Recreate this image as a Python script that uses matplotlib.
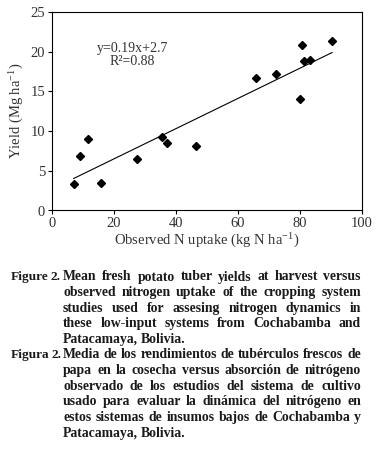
import matplotlib
matplotlib.use("Agg")
import matplotlib.pyplot as plt
import numpy as np

# datos
n_uptake = [7.0, 9.0, 11.7, 15.9, 27.4, 35.7, 37.3, 46.4, 66.0, 72.4, 80.0, 80.8, 81.5, 83.2, 90.5]
yield_mg = [3.36, 6.9, 9.0, 3.45, 6.5, 9.24, 8.5, 8.15, 16.7, 17.2, 14.1, 20.9, 18.8, 19.0, 21.4]
slope, intercept = 0.19, 2.7

caption_en = [
    "Mean fresh potato tuber yields at harvest versus",
    "observed nitrogen uptake of the cropping system",
    "studies used for assesing nitrogen dynamics in",
    "these low-input systems from Cochabamba and",
    "Patacamaya, Bolivia.",
]
caption_es = [
    "Media de los rendimientos de tubérculos frescos de",
    "papa en la cosecha versus absorción de nitrógeno",
    "observado de los estudios del sistema de cultivo",
    "usado para evaluar la dinámica del nitrógeno en",
    "estos sistemas de insumos bajos de Cochabamba y",
    "Patacamaya, Bolivia.",
]

plt.rcParams['font.family'] = 'Liberation Serif'
plt.rcParams['mathtext.fontset'] = 'custom'
plt.rcParams['mathtext.rm'] = 'Liberation Serif'
plt.rcParams['mathtext.it'] = 'Liberation Serif:italic'

W, H = 376, 461
fig = plt.figure(figsize=(W / 100, H / 100), dpi=100)
ax = fig.add_axes([52 / W, 1 - 210.5 / H, (361.5 - 52) / W, (210.5 - 12) / H])

gris = '#333333'
ax.plot(n_uptake, yield_mg, 'D', color='black', ms=4.5, zorder=3)
xl = np.array([min(n_uptake), max(n_uptake)])
ax.plot(xl, slope * xl + intercept, color='black', lw=0.8)

ax.set_xlim(0, 100)
ax.set_ylim(0, 25)
ax.set_xticks([0, 20, 40, 60, 80, 100])
ax.set_yticks([0, 5, 10, 15, 20, 25])
ax.tick_params(direction='out', length=3, width=0.8, labelsize=10.5, labelcolor=gris, pad=2)
for s in ax.spines.values():
    s.set_linewidth(0.8)
ax.set_xlabel('Observed N uptake (kg N ha$^{\\mathrm{-1}}$)', fontsize=10.5, color=gris, labelpad=1)
ax.set_ylabel('Yield (Mg ha$^{\\mathrm{-1}}$)', fontsize=10.5, color=gris, labelpad=3)

ax.text(26, 20.45, 'y=0.19x+2.7', ha='center', va='center', fontsize=10, color=gris)
ax.text(26, 18.8, 'R²=0.88', ha='center', va='center', fontsize=10, color=gris)

# pie de figura justificado
renderer = fig.canvas.get_renderer()
col = '#1a1a1a'
x_izq, x_der = 63, 361


def ajustar(texto, ancho):
    # tamaño de letra para que el texto ocupe el ancho dado
    t = fig.text(0, 0, texto, fontsize=10, fontweight='bold')
    w = t.get_window_extent(renderer).width
    t.remove()
    return 10 * ancho / w


fs = ajustar(caption_es[0], x_der - x_izq)
fs_etq = min(fs, ajustar('Figure2.', 48))


def linea(texto, y, x0, x1, justificar, size, gap_fijo):
    palabras = texto.split()
    objs = []
    anchos = []
    for p in palabras:
        t = fig.text(0, 1 - y / H, p, fontsize=size, fontweight='bold', color=col, va='center', ha='left')
        objs.append(t)
        anchos.append(t.get_window_extent(renderer).width)
    if justificar and len(palabras) > 1:
        gap = (x1 - x0 - sum(anchos)) / (len(palabras) - 1)
    else:
        gap = gap_fijo
    x = x0
    for t, w in zip(objs, anchos):
        t.set_x(x / W)
        x += w + gap


def bloque(etiqueta, lineas, y0):
    linea(etiqueta, y0, 11, 0, False, fs_etq, 2)
    for i, l in enumerate(lineas):
        linea(l, y0 + 15.6 * i, x_izq, x_der, i < len(lineas) - 1, fs, fs * 0.3)


bloque('Figure 2.', caption_en, 277)
bloque('Figura 2.', caption_es, 355)

fig.savefig('out.png', dpi=100)
